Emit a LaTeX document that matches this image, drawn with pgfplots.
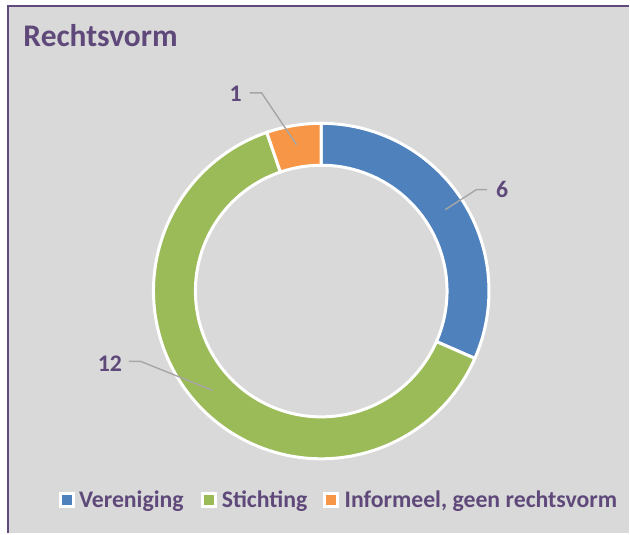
\documentclass[border=0pt]{standalone}
\usepackage{pgfplots}
\pgfplotsset{compat=1.18}
\usepackage{pgfplotstable}
\usepackage{fontspec}
\setmainfont{Carlito}

\definecolor{panel}{HTML}{D9D9D9}
\definecolor{frame}{HTML}{604A7B}
\definecolor{txt}{HTML}{5F497A}
\definecolor{leader}{HTML}{A6A6A6}
\definecolor{vblue}{HTML}{4F81BD}
\definecolor{sgreen}{HTML}{9BBB59}
\definecolor{iorange}{HTML}{F79646}

% Rechtsvorm counts, clockwise from 12 o'clock
\pgfplotstableread{
value
6
12
1
}\ringdata

\begin{document}
\begin{tikzpicture}
\begin{axis}[
  x=1pt, y=1pt,
  xmin=0, xmax=630, ymin=0, ymax=534,
  scale only axis, hide axis, clip=false,
]
% background and frame
\fill[white] (axis cs:0,0) rectangle (axis cs:630,534);
\fill[panel] (axis cs:8,0) rectangle (axis cs:630,528);
\draw[frame, line width=2pt] (axis cs:8,0) -- (axis cs:8,528) -- (axis cs:630,528);

\node[anchor=base west, text=txt, font=\fontsize{31.5}{36}\selectfont\bfseries]
  at (axis cs:20,487) {Rechtsvorm};

% donut
\def\cx{321.75}\def\cy{242.5}\def\Ro{168}\def\Ri{126}
\xdef\angstart{90}
\foreach \i/\col in {0/vblue,1/sgreen,2/iorange}{
  \pgfplotstablegetelem{\i}{value}\of\ringdata
  \pgfmathsetmacro\aend{\angstart-360*\pgfplotsretval/19}
  \edef\temp{\noexpand\fill[\col, draw=white, line width=3pt, line join=miter]
    (axis cs:{\cx+\Ro*cos(\angstart)},{\cy+\Ro*sin(\angstart)})
    arc[start angle=\angstart, end angle=\aend, radius=\Ro pt]
    -- (axis cs:{\cx+\Ri*cos(\aend)},{\cy+\Ri*sin(\aend)})
    arc[start angle=\aend, end angle=\angstart, radius=\Ri pt] -- cycle;}
  \temp
  \xdef\angstart{\aend}
}

% data labels
\draw[leader, line width=1.4pt] (axis cs:250,441) -- (axis cs:262,441) -- (axis cs:297,389);
\draw[leader, line width=1.4pt] (axis cs:488,344) -- (axis cs:477,344) -- (axis cs:446,324);
\draw[leader, line width=1.4pt] (axis cs:129,172) -- (axis cs:141,172) -- (axis cs:213,143);
\node[anchor=base, text=txt, font=\fontsize{23.8}{28}\selectfont\bfseries] at (axis cs:236,432) {1};
\node[anchor=base, text=txt, font=\fontsize{23.8}{28}\selectfont\bfseries] at (axis cs:503,336) {6};
\node[anchor=base, text=txt, font=\fontsize{23.8}{28}\selectfont\bfseries] at (axis cs:110,162) {12};

% legend
\foreach \sx/\tx/\col/\lab in {67/79/vblue/Vereniging,209/222/sgreen/Stichting,332/345/iorange/{Informeel, geen rechtsvorm}}{
  \edef\temp{\noexpand\fill[white] (axis cs:\sx-8,25.5) rectangle (axis cs:\sx+8,41.5);
    \noexpand\fill[\col] (axis cs:\sx-5,28.5) rectangle (axis cs:\sx+5,38.5);}
  \temp
  \edef\temp{\noexpand\node[anchor=base west, inner sep=0pt, text=txt,
    font=\noexpand\fontsize{23.8}{28}\noexpand\selectfont\noexpand\bfseries]
    at (axis cs:\tx,26) {\lab};}
  \temp
}
\end{axis}
\end{tikzpicture}
\end{document}
